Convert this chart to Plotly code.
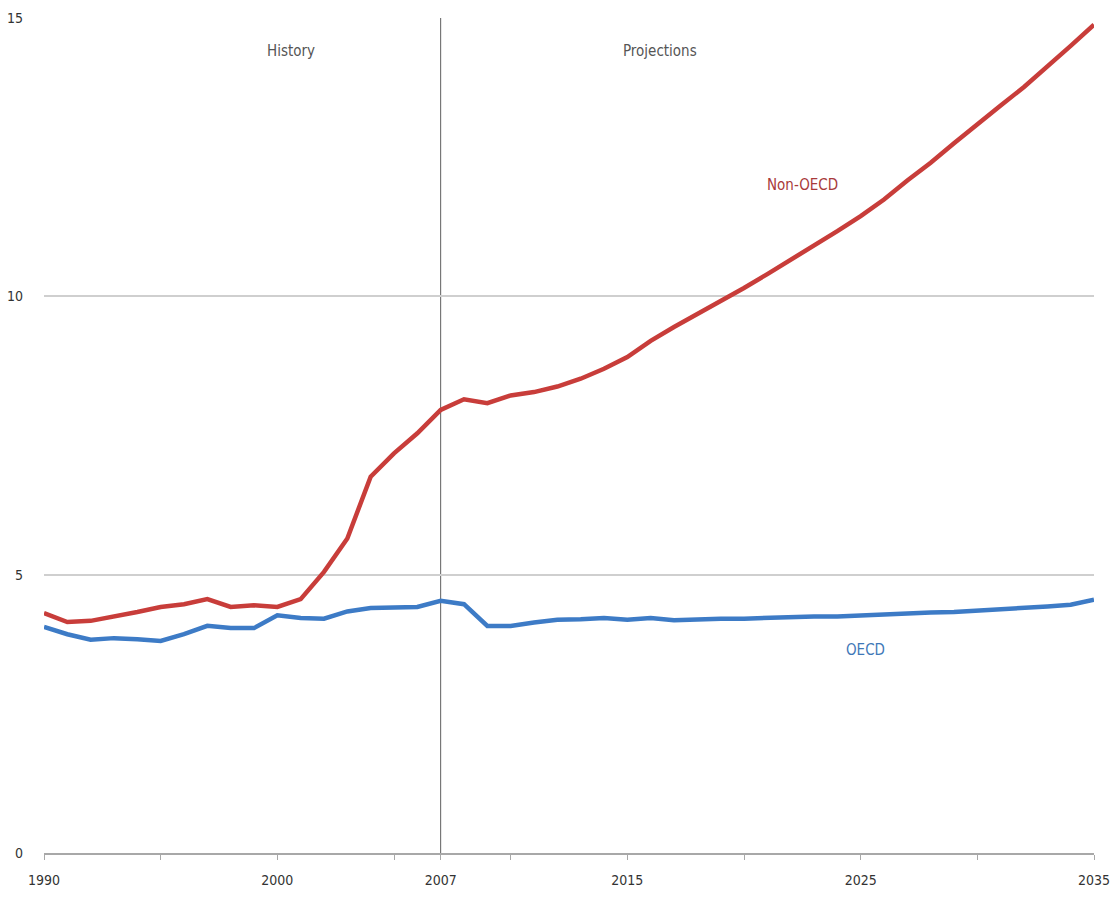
import plotly.graph_objects as go

# Years 1990-2035 (history through 2007, projections after)
years = list(range(1990, 2036))

non_oecd = [
    4.31, 4.15, 4.17, 4.24, 4.33, 4.42, 4.47, 4.56, 4.42, 4.45,
    4.42, 4.56, 5.05, 5.65, 6.76, 7.18, 7.54, 7.96, 8.15, 8.08,
    8.22, 8.28, 8.38, 8.52, 8.70, 8.91, 9.20, 9.45, 9.68, 9.92,
    10.15, 10.40, 10.65, 10.90, 11.17, 11.44, 11.74, 12.08, 12.40, 12.75,
    13.10, 13.43, 13.76, 14.12, 14.50, 14.88,
]

oecd = [
    4.06, 3.93, 3.83, 3.86, 3.84, 3.81, 3.93, 4.08, 4.04, 4.04,
    4.27, 4.22, 4.21, 4.34, 4.40, 4.42, 4.42, 4.53, 4.47, 4.08,
    4.08, 4.14, 4.19, 4.20, 4.22, 4.19, 4.22, 4.18, 4.20, 4.21,
    4.21, 4.23, 4.24, 4.25, 4.25, 4.27, 4.28, 4.30, 4.32, 4.33,
    4.35, 4.38, 4.40, 4.43, 4.46, 4.55,
]

x_tick_vals = [1990, 1995, 2000, 2005, 2007, 2010, 2015, 2020, 2025, 2030, 2035]
x_tick_text = ["1990", "", "2000", "", "2007", "", "2015", "", "2025", "", "2035"]
y_tick_vals = [0, 5, 10, 15]

RED = "#c83d3a"
BLUE = "#3d7bc6"
FONT = "Liberation Sans Narrow, DejaVu Sans Condensed, Arial Narrow, sans-serif"

fig = go.Figure()
fig.add_trace(go.Scatter(x=years, y=non_oecd, mode="lines",
                         line=dict(color=RED, width=4.5), name="Non-OECD"))
fig.add_trace(go.Scatter(x=years, y=oecd, mode="lines",
                         line=dict(color=BLUE, width=4.5), name="OECD"))

# Divider between history and projections
fig.add_shape(type="line", x0=2007, x1=2007, y0=0, y1=15, xref="x", yref="y",
              line=dict(color="#5e5e5e", width=1), layer="below")

fig.add_annotation(x=2000.6, y=14.4, text="History", showarrow=False,
                   font=dict(family=FONT, size=15, color="#555555"))
fig.add_annotation(x=2016.4, y=14.4, text="Projections", showarrow=False,
                   font=dict(family=FONT, size=15, color="#555555"))
fig.add_annotation(x=2022.5, y=12.0, text="Non-OECD", showarrow=False,
                   font=dict(family=FONT, size=15, color="#a83a3a"))
fig.add_annotation(x=2025.2, y=3.64, text="OECD", showarrow=False,
                   font=dict(family=FONT, size=15, color="#3f78b8"))

fig.update_layout(
    width=1114, height=899,
    margin=dict(l=44, r=20, t=18, b=46, autoexpand=False),
    paper_bgcolor="white", plot_bgcolor="white",
    showlegend=False,
    font=dict(family=FONT, size=14, color="#333333"),
    xaxis=dict(
        range=[1990, 2035], tickmode="array",
        tickvals=x_tick_vals, ticktext=x_tick_text,
        showgrid=False, zeroline=False, automargin=False,
        showline=True, linecolor="#a8a8a8", linewidth=2,
        ticks="outside", ticklen=5, tickcolor="#a8a8a8", tickwidth=1,
        tickfont=dict(family=FONT, size=14, color="#333333"),
        ticklabelstandoff=8, ticklabeloverflow="allow",
    ),
    yaxis=dict(
        range=[0, 15], tickmode="array", tickvals=y_tick_vals,
        showgrid=True, gridcolor="#cfcfcf", gridwidth=1.5,
        zeroline=False, showline=False, ticks="", automargin=False,
        tickfont=dict(family=FONT, size=14, color="#333333"),
        ticklabelstandoff=20, ticklabeloverflow="allow",
    ),
)

fig.write_html("out.html")
